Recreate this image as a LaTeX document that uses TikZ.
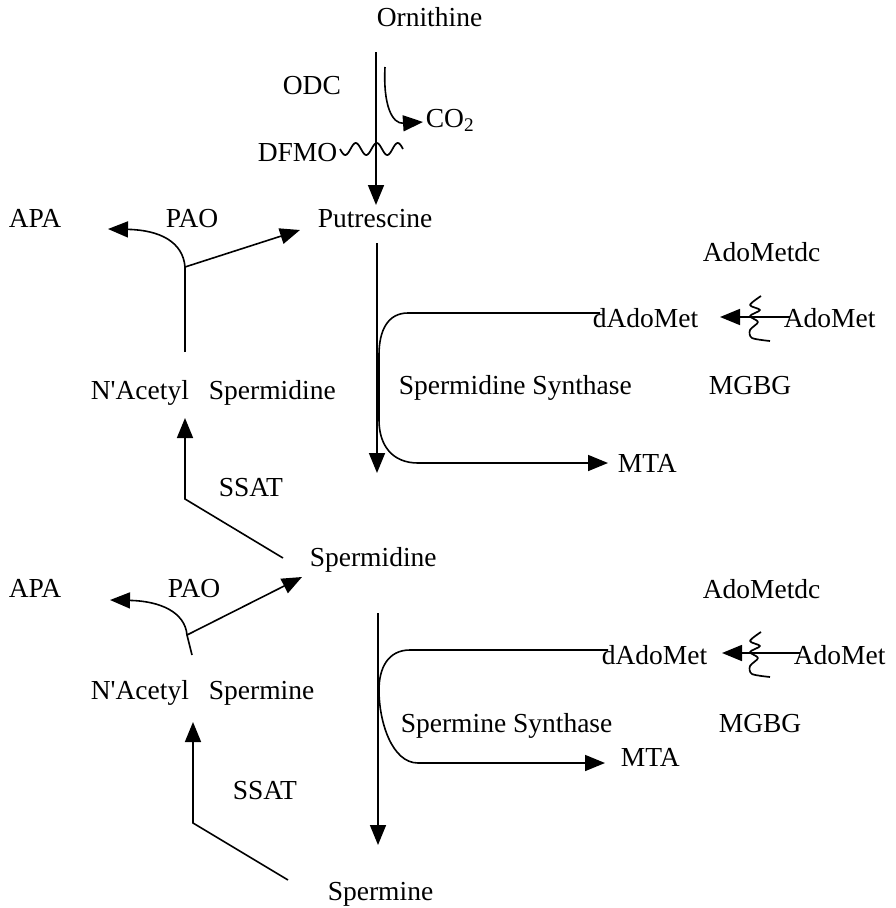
\documentclass[tikz,border=0pt]{standalone}
\usepackage{fontspec}
\setmainfont{Liberation Serif}
\usetikzlibrary{arrows.meta}
\begin{document}
\begin{tikzpicture}[x=1pt,y=-1pt,line width=1.6pt,
  lbl/.style={anchor=base west,inner sep=0pt,font=\fontsize{27.5}{33}\selectfont},
  arr/.style={-{Triangle[length=20pt,width=16pt]}},
  squig/.style={line width=1.7pt,line join=round}]
\useasboundingbox (0,0) rectangle (896,908);
% labels
\node[lbl] (orn) at (376,26) {Ornithine};
\node[lbl] (odc) at (282,94) {ODC};
\node[lbl] (co2) at (425,127) {CO\textsubscript{2}};
\node[lbl] (dfmo) at (257,161) {DFMO};
\node[lbl] (put) at (317,227) {Putrescine};
\node[lbl] (apa1) at (8,227) {APA};
\node[lbl] (pao1) at (165,227) {PAO};
\node[lbl] (amdc1) at (702,261) {AdoMetdc};
\node[lbl] (dam1) at (592,327) {dAdoMet};
\node[lbl] (am1) at (783,327) {AdoMet};
\node[lbl] (nas1) at (90,399) {N\textquotesingle Acetyl\hspace{20pt}Spermidine};
\node[lbl] (sds) at (398,394) {Spermidine Synthase};
\node[lbl] (mgbg1) at (708,394) {MGBG};
\node[lbl] (mta1) at (617,472) {MTA};
\node[lbl] (ssat1) at (218,496) {SSAT};
\node[lbl] (spd) at (309,566) {Spermidine};
\node[lbl] (apa2) at (8,597) {APA};
\node[lbl] (pao2) at (167,597) {PAO};
\node[lbl] (amdc2) at (702,598) {AdoMetdc};
\node[lbl] (dam2) at (601,664) {dAdoMet};
\node[lbl] (am2) at (793,664) {AdoMet};
\node[lbl] (nas2) at (90,699) {N\textquotesingle Acetyl\hspace{20pt}Spermine};
\node[lbl] (sms) at (400,732) {Spermine Synthase};
\node[lbl] (mgbg2) at (718,732) {MGBG};
\node[lbl] (mta2) at (620,766) {MTA};
\node[lbl] (ssat2) at (232,799) {SSAT};
\node[lbl] (spm) at (327,900) {Spermine};
% coordinates
\coordinate (o1) at (376,52);  \coordinate (o2) at (376,205);
\coordinate (p1) at (377,243); \coordinate (p2) at (377,473);
\coordinate (s1) at (378,613); \coordinate (s2) at (378,845);
\coordinate (c1) at (385,67);  \coordinate (c2) at (423,122);
\coordinate (j1) at (185,267); \coordinate (j1b) at (185,352);
\coordinate (a1l) at (108,229); \coordinate (a1r) at (300,230);
\coordinate (j2) at (187,635); \coordinate (j2b) at (192,655);
\coordinate (a2l) at (110,600); \coordinate (a2r) at (302,577);
\coordinate (t1a) at (283,558); \coordinate (t1b) at (185,499); \coordinate (t1c) at (185,418);
\coordinate (t2a) at (288,880); \coordinate (t2b) at (193,823); \coordinate (t2c) at (193,722);
\coordinate (b1a) at (600,313); \coordinate (b1z) at (608,463);
\coordinate (b2a) at (608,650); \coordinate (b2z) at (605,763);
\coordinate (i1a) at (790,317); \coordinate (i1z) at (720,317);
\coordinate (i2a) at (800,653); \coordinate (i2z) at (722,653);
% main chain
\draw[arr] (o1) -- (o2);
\draw[arr] (p1) -- (p2);
\draw[arr] (s1) -- (s2);
% CO2 release
\draw[arr] (c1) .. controls (383,105) and (392,124) .. (c2);
% DFMO squiggle
\draw[squig] plot[domain=0:63,samples=80,smooth] ({340+\x},{149+6*sin(\x*17.1429)});
% PAO top
\draw (j1b) -- (j1);
\draw[arr] (j1) -- (a1r);
\draw[arr] (j1) .. controls (183,242) and (160,230) .. (a1l);
% PAO middle
\draw (j2b) -- (j2);
\draw[arr] (j2) -- (a2r);
\draw[arr] (j2) .. controls (185,612) and (160,601) .. (a2l);
% SSAT
\draw[arr] (t1a) -- (t1b) -- (t1c);
\draw[arr] (t2a) -- (t2b) -- (t2c);
% synthase brackets
\draw[arr] (b1a) -- (408,313) .. controls (388,313) and (379,330) .. (379,355)
  -- (379,420) .. controls (379,445) and (392,463) .. (418,463) -- (b1z);
\draw[arr] (b2a) -- (410,650) .. controls (388,650) and (379,668) .. (379,690)
  .. controls (379,722) and (392,763) .. (418,763) -- (b2z);
% AdoMet -> dAdoMet
\draw[arr] (i1a) -- (i1z);
\draw[arr] (i2a) -- (i2z);
% inhibitor squiggles
\draw[squig] plot[smooth,tension=0.5] coordinates {(761,296) (750,305) (760,310) (750,316) (758,322) (750,330) (752,338) (770,341)};
\draw[squig] plot[smooth,tension=0.5] coordinates {(761,632) (750,641) (760,646) (750,652) (758,658) (750,666) (752,674) (770,677)};
\end{tikzpicture}
\end{document}
